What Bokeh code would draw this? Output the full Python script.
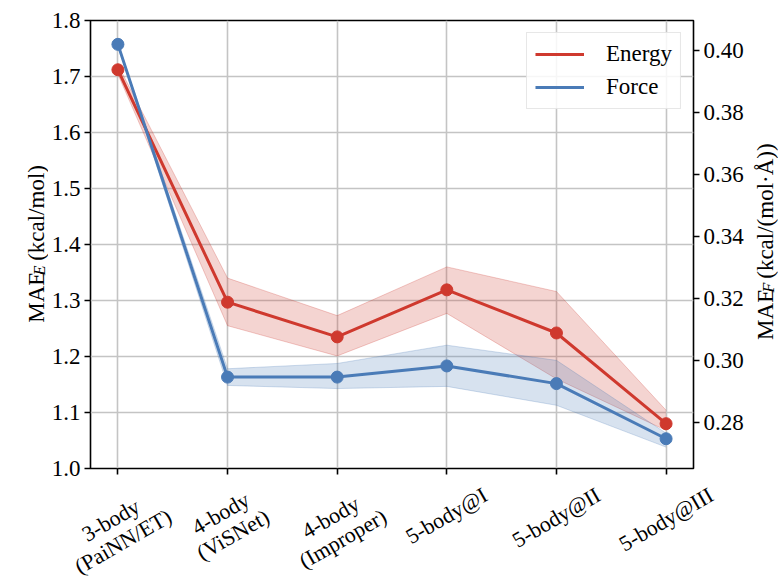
import math
from bokeh.plotting import figure
from bokeh.layouts import column, row
from bokeh.models import (Range1d, LinearAxis, FixedTicker, PrintfTickFormatter,
                          Legend, LegendItem)
from bokeh.core.properties import value
from bokeh.embed import file_html
from bokeh.resources import INLINE

# ---------------- data ----------------
categories = ["3-body\n(PaiNN/ET)", "4-body\n(ViSNet)", "4-body\n(Improper)",
              "5-body@I", "5-body@II", "5-body@III"]
energy = [1.712, 1.297, 1.235, 1.319, 1.242, 1.080]
energy_lo = [1.704, 1.255, 1.201, 1.277, 1.160, 1.068]
energy_hi = [1.721, 1.340, 1.273, 1.360, 1.316, 1.104]
force = [0.4019, 0.2945, 0.2945, 0.2981, 0.2924, 0.2746]
force_lo = [0.4015, 0.2918, 0.2908, 0.2915, 0.2854, 0.2719]
force_hi = [0.4023, 0.2972, 0.2989, 0.3048, 0.2999, 0.2764]
left_ticks = [1.0, 1.1, 1.2, 1.3, 1.4, 1.5, 1.6, 1.7, 1.8]
right_ticks = [0.28, 0.30, 0.32, 0.34, 0.36, 0.38, 0.40]
left_title = ["MAE", "E", "(kcal/mol)"]
right_title = ["MAE", "F", "(kcal/(mol·Å))"]

# ---------------- style / layout ----------------
RED = "#cf392e"
BLUE = "#4a7bb7"
FONT = "Liberation Serif"
FS = 23
FS_X = 22
SUB = round(FS * 0.7)

W_TOTAL, H_TOTAL = 778, 580
LEFT_W, RIGHT_W = 48, 32          # side title strips
MAIN_H = 482                      # main plot height; the rest holds x labels
FRAME_L, FRAME_R, FRAME_T, FRAME_B = 89, 693, 20, 468

TIMES = {'0': 500, '1': 500, '2': 500, '3': 500, '4': 500, '5': 500, '6': 500,
         '7': 500, '8': 500, '9': 500, '.': 250, '-': 333, '@': 921, '(': 333,
         ')': 333, '/': 278, 'a': 444, 'b': 500, 'd': 500, 'o': 500, 'y': 500,
         'i': 278, 'N': 722, 'P': 556, 'E': 611, 'T': 611, 'V': 722, 'S': 556,
         'e': 444, 't': 278, 'I': 333, 'm': 778, 'p': 500, 'r': 333, 'k': 500,
         'c': 444, 'l': 278, 'M': 889, 'A': 722, 'F': 556, ' ': 250, '·': 250,
         'Å': 722, 'n': 500, 'g': 500}


def text_width(s, size):
    return sum(TIMES.get(ch, 500) for ch in s) / 1000.0 * size


xs = list(range(len(categories)))
X0, X1 = -0.25, len(categories) - 0.75
Y0, Y1 = left_ticks[0], left_ticks[-1]

main_w = W_TOTAL - LEFT_W - RIGHT_W
p = figure(width=main_w, height=MAIN_H, x_range=Range1d(X0, X1), y_range=Range1d(Y0, Y1),
           output_backend="svg", toolbar_location=None,
           min_border_left=FRAME_L - LEFT_W,
           min_border_right=LEFT_W + main_w - FRAME_R,
           min_border_top=FRAME_T, min_border_bottom=MAIN_H - FRAME_B)
p.extra_y_ranges = {"force": Range1d(0.2650, 0.4096)}
p.background_fill_color = "white"
p.border_fill_color = "white"
p.outline_line_color = "black"
p.outline_line_width = 1.6
p.outline_line_alpha = 1.0

# bands
p.varea(x=xs, y1=energy_lo, y2=energy_hi, fill_color=RED, fill_alpha=0.22)
p.line(xs, energy_lo, line_color=RED, line_alpha=0.25, line_width=1)
p.line(xs, energy_hi, line_color=RED, line_alpha=0.25, line_width=1)
p.varea(x=xs, y1=force_lo, y2=force_hi, fill_color=BLUE, fill_alpha=0.22,
        y_range_name="force")
p.line(xs, force_lo, line_color=BLUE, line_alpha=0.25, line_width=1, y_range_name="force")
p.line(xs, force_hi, line_color=BLUE, line_alpha=0.25, line_width=1, y_range_name="force")

# series
le = p.line(xs, energy, line_color=RED, line_width=3)
p.scatter(xs, energy, size=12, fill_color=RED, line_color=RED)
lf = p.line(xs, force, line_color=BLUE, line_width=3, y_range_name="force")
p.scatter(xs, force, size=12, fill_color=BLUE, line_color=BLUE, y_range_name="force")

# axes
p.xaxis.ticker = FixedTicker(ticks=xs)
p.xaxis.major_label_overrides = {i: "" for i in xs}
p.yaxis.ticker = FixedTicker(ticks=left_ticks)
p.yaxis.formatter = PrintfTickFormatter(format="%.1f")
right = LinearAxis(y_range_name="force", ticker=FixedTicker(ticks=right_ticks),
                   formatter=PrintfTickFormatter(format="%.2f"))
p.add_layout(right, "right")

for ax in [p.xaxis[0], p.yaxis[0], right]:
    ax.axis_line_color = None
    ax.major_tick_out = 6
    ax.major_tick_in = 0
    ax.minor_tick_out = 0
    ax.minor_tick_in = 0
    ax.major_tick_line_color = "black"
    ax.major_tick_line_width = 1.6
    ax.major_label_text_font = FONT
    ax.major_label_text_font_size = f"{FS}px"
    ax.major_label_text_color = "black"
    ax.major_label_standoff = 4
p.xaxis.major_label_text_font_size = "0px"
p.xaxis.major_label_standoff = 0

p.xgrid.ticker = FixedTicker(ticks=xs)
p.ygrid.ticker = FixedTicker(ticks=left_ticks)
for g in [p.xgrid[0], p.ygrid[0]]:
    g.grid_line_color = "#c4c4c4"
    g.grid_line_width = 1.6

# legend
legend = Legend(items=[LegendItem(label="Energy", renderers=[le]),
                       LegendItem(label="Force", renderers=[lf])],
                location="top_right", margin=12, padding=8, spacing=7,
                glyph_width=49, glyph_height=26, label_height=26, label_standoff=22,
                label_text_font=FONT, label_text_font_size=f"{FS}px",
                label_text_color="black", background_fill_alpha=0.85,
                border_line_color="#d0d0d0", border_line_width=1.5)
p.add_layout(legend)


def blank_fig(w, h, xr, yr):
    f = figure(width=w, height=h, x_range=xr, y_range=yr, output_backend="svg",
               toolbar_location=None, x_axis_type=None, y_axis_type=None,
               min_border_left=0, min_border_right=0, min_border_top=0,
               min_border_bottom=0)
    f.outline_line_color = None
    f.background_fill_color = "white"
    f.border_fill_color = "white"
    f.grid.visible = False
    return f


# ---- x tick labels strip (shares the main x scale) ----
pxu = (FRAME_R - FRAME_L) / (X1 - X0)
bot_h = H_TOTAL - MAIN_H
bx = Range1d(X0 - FRAME_L / pxu, X1 + (W_TOTAL - FRAME_R) / pxu)
bottom = blank_fig(W_TOTAL, bot_h, bx, Range1d(-bot_h, 0))

theta = math.radians(30)
lh = FS_X * 1.12
tx, ty, tt = [], [], []
for i, cat in enumerate(categories):
    lines = cat.split("\n")
    n = len(lines)
    Wd = max(text_width(s, FS_X) for s in lines)
    Hd = n * lh
    d = 6 + 8 + (Wd * math.sin(theta) + Hd * math.cos(theta)) / 2
    for k, s in enumerate(lines):
        off = (k - (n - 1) / 2) * lh
        tx.append(xs[i] + off * math.sin(theta) / pxu)
        ty.append(-(FRAME_B + d + off * math.cos(theta) - MAIN_H))
        tt.append(s)
bottom.text(x=tx, y=ty, text=tt, angle=theta, text_align="center",
            text_baseline="middle", text_font=value(FONT),
            text_font_size=value(f"{FS_X}px"), text_color="black")


# ---- axis titles with subscripts ----
def title_fig(w, parts, baseline_x):
    f = blank_fig(w, MAIN_H, Range1d(0, w), Range1d(0, MAIN_H))
    widths = [text_width(parts[0], FS), text_width(parts[1], SUB),
              text_width(" ", FS), text_width(parts[2], FS)]
    total = sum(widths)
    ymid = MAIN_H - (FRAME_T + FRAME_B) / 2
    s0 = ymid - total / 2
    common = dict(angle=math.pi / 2, text_align="left", text_baseline="alphabetic",
                  text_font=value(FONT), text_color="black")
    f.text(x=[baseline_x, baseline_x], y=[s0, s0 + widths[0] + widths[1] + widths[2]],
           text=[parts[0], parts[2]], text_font_size=value(f"{FS}px"), **common)
    f.text(x=[baseline_x + 3], y=[s0 + widths[0]], text=[parts[1]],
           text_font_size=value(f"{SUB}px"), text_font_style="italic", **common)
    return f


left_fig = title_fig(LEFT_W, left_title, 36)
right_fig = title_fig(RIGHT_W, right_title, 765 - (W_TOTAL - RIGHT_W))

layout = column(row(left_fig, p, right_fig, spacing=0), bottom, spacing=0)
open("out.html", "w").write(file_html(layout, INLINE))
